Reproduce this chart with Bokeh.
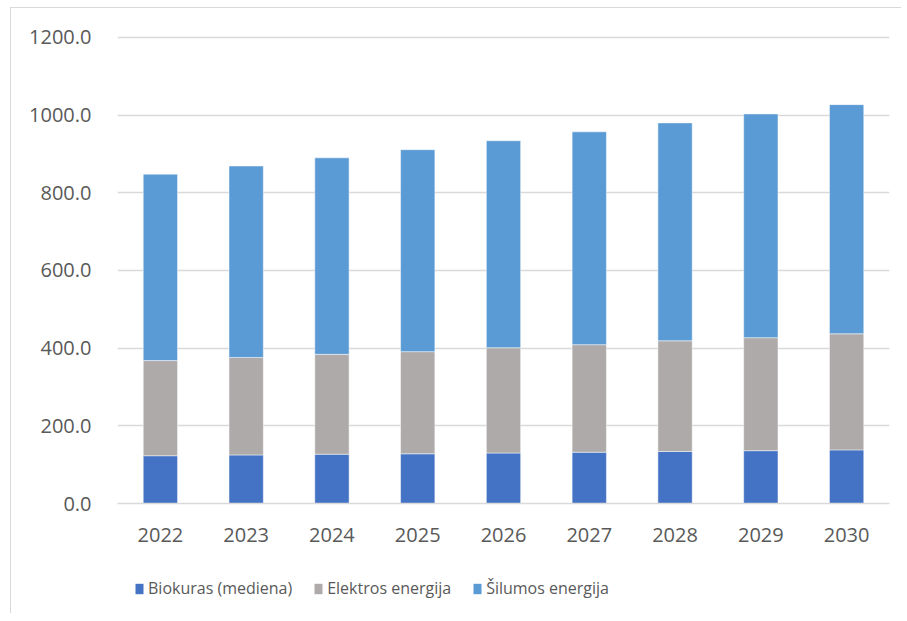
from bokeh.plotting import figure
from bokeh.layouts import column
from bokeh.models import ColumnDataSource, FactorRange, FixedTicker, PrintfTickFormatter, Legend, LegendItem, Range1d
from bokeh.embed import file_html
from bokeh.resources import INLINE

years = ["2022", "2023", "2024", "2025", "2026", "2027", "2028", "2029", "2030"]
biokuras = [123, 125, 127, 128, 130, 132, 134, 136, 138]
elektros = [245, 251, 257, 263, 271, 277, 285, 291, 299]
silumos = [480, 493, 506, 520, 533, 548, 561, 576, 590]
series_names = ["Biokuras (mediena)", "Elektros energija", "Šilumos energija"]
series_keys = ["bio", "el", "sil"]
colors = ["#4472C4", "#AEAAAA", "#5B9BD5"]
y_ticks = [0, 200, 400, 600, 800, 1000, 1200]

FONT = "Open Sans"
TXT = "#595959"
GRID = "#D9D9D9"

src = ColumnDataSource(dict(years=years, bio=biokuras, el=elektros, sil=silumos))

W = 890
p = figure(x_range=FactorRange(*years), y_range=Range1d(0, 1205),
           width=W, height=550, output_backend="svg", toolbar_location=None,
           min_border_left=106, min_border_right=12, min_border_top=27, min_border_bottom=55)

renderers = p.vbar_stack(series_keys, x="years", width=0.4, source=src, color=colors,
                         line_color="white", line_width=0.8, line_alpha=0.6)

p.outline_line_color = None
p.xgrid.grid_line_color = None
p.ygrid.grid_line_color = GRID
p.ygrid.grid_line_width = 1.5
p.ygrid.ticker = FixedTicker(ticks=y_ticks)

p.yaxis.ticker = FixedTicker(ticks=y_ticks)
p.yaxis.formatter = PrintfTickFormatter(format="%.1f")
p.yaxis.axis_line_color = None
p.yaxis.major_tick_line_color = None
p.yaxis.minor_tick_line_color = None
p.yaxis.major_label_standoff = 20
p.yaxis.major_label_text_font = FONT
p.yaxis.major_label_text_font_size = "20px"
p.yaxis.major_label_text_color = TXT

p.xaxis.axis_line_color = GRID
p.xaxis.axis_line_width = 1.5
p.xaxis.major_tick_line_color = None
p.xaxis.minor_tick_line_color = None
p.xaxis.major_label_standoff = 18
p.xaxis.major_label_text_font = FONT
p.xaxis.major_label_text_font_size = "20px"
p.xaxis.major_label_text_color = TXT

# legend strip below the chart (swatch renderers lie far outside the visible ranges)
lg = figure(width=W, height=55, output_backend="svg", toolbar_location=None,
            x_range=Range1d(0, 1), y_range=Range1d(0, 1),
            x_axis_location=None, y_axis_location=None,
            min_border_left=0, min_border_right=0, min_border_top=0, min_border_bottom=0)
lg.outline_line_color = None
lg.grid.grid_line_color = None
swatches = [lg.vbar(x=[-50], top=[-50], bottom=[-60], width=1, fill_color=c, line_color=None)
            for c in colors]
legend = Legend(items=[LegendItem(label=n, renderers=[r]) for n, r in zip(series_names, swatches)],
                orientation="horizontal", location=(17, 14),
                glyph_width=10, glyph_height=13, label_standoff=4, spacing=21,
                label_text_font=FONT, label_text_font_size="16px", label_text_color=TXT,
                border_line_color=None, background_fill_alpha=0, margin=0, padding=4)
lg.add_layout(legend, "center")

layout = column(p, lg, margin=(7, 0, 0, 10),
                styles={"border-left": "1.5px solid #D9D9D9", "border-top": "1.5px solid #D9D9D9"})

open("out.html", "w").write(file_html(layout, INLINE))
